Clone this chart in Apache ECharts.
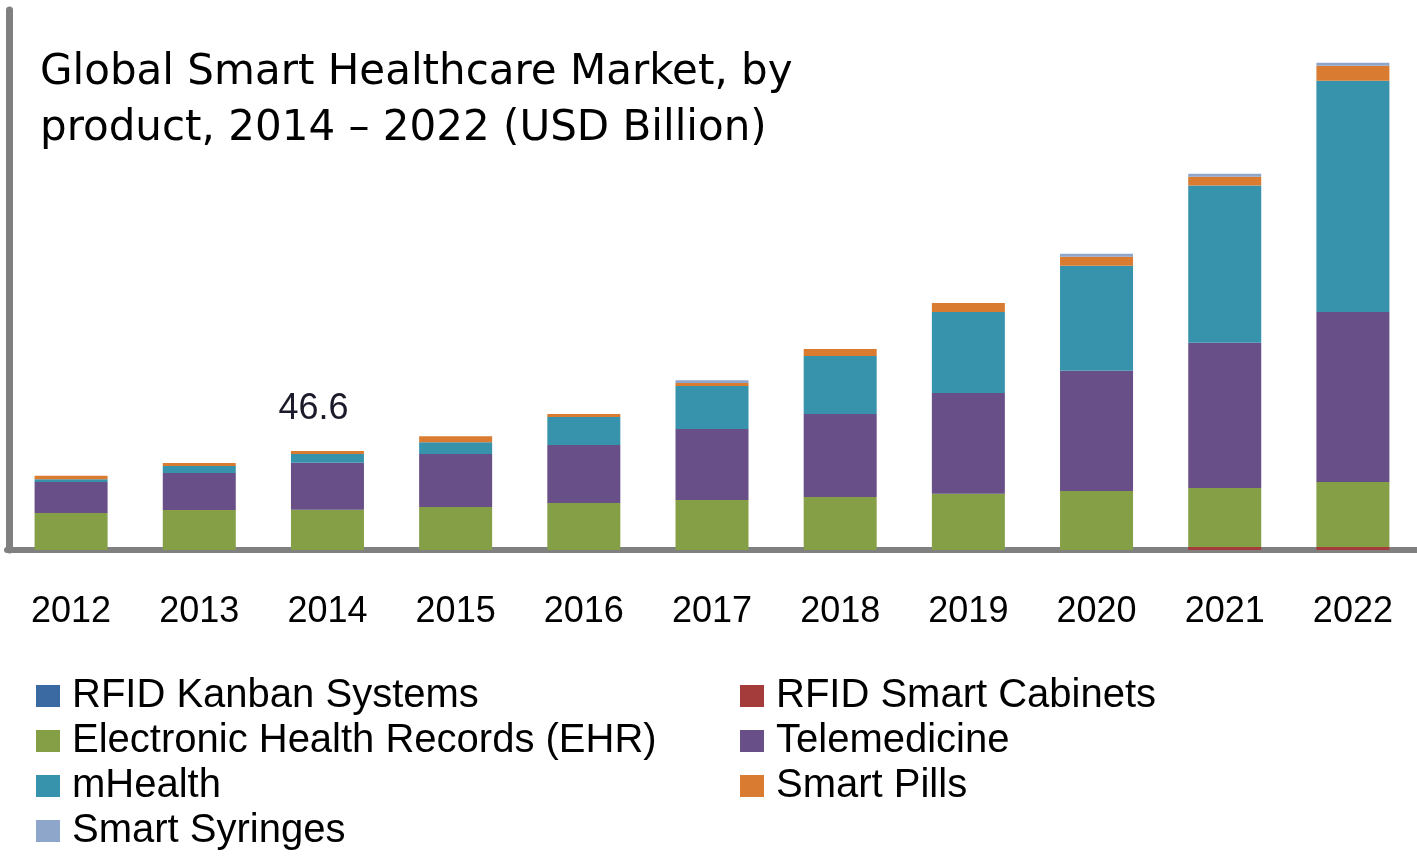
<!DOCTYPE html>
<html>
<head>
<meta charset="utf-8">
<script src="https://cdn.jsdelivr.net/npm/echarts@6/dist/echarts.min.js"></script>
<style>
html,body{margin:0;padding:0;background:#fff;}
#chart{width:1417px;height:858px;}
</style>
</head>
<body>
<div id="chart"></div>
<script>
// ---- Data (USD Billion) ----
const years = ['2012','2013','2014','2015','2016','2017','2018','2019','2020','2021','2022'];
const rfidKanban    = [0, 0, 0, 0, 0, 0, 0, 0, 0, 0, 0];
const rfidCabinets  = [0, 0, 0, 0, 0, 0, 0, 0, 0, 1.4, 1.4];
const ehr           = [17.4, 18.8, 18.9, 20.2, 22.1, 23.5, 24.9, 26.4, 27.8, 27.8, 30.6];
const telemedicine  = [14.6, 17.4, 22.1, 24.9, 27.3, 33.4, 39.1, 47.5, 56.5, 68.3, 80.0];
const mHealth       = [1.3, 3.3, 4.2, 5.6, 13.2, 20.2, 27.3, 38.1, 49.4, 73.9, 108.7];
const smartPills    = [1.6, 1.4, 1.4, 2.8, 1.4, 1.4, 3.3, 4.2, 4.2, 4.2, 7.1];
const smartSyringes = [0, 0, 0, 0, 0, 1.4, 0, 0, 1.4, 1.4, 1.4];
const annotatedYear = '2014';

const seriesNames = ['RFID Kanban Systems','RFID Smart Cabinets','Electronic Health Records (EHR)','Telemedicine','mHealth','Smart Pills','Smart Syringes'];
const seriesData = [rfidKanban, rfidCabinets, ehr, telemedicine, mHealth, smartPills, smartSyringes];
const colors = ['#3B69A1','#A33C3B','#849F45','#684F88','#3792AC','#D97C31','#8FA6CB'];

const annIdx = years.indexOf(annotatedYear);
const annTotal = seriesData.reduce((s, arr) => s + arr[annIdx], 0);

const chart = echarts.init(document.getElementById('chart'), null, {renderer: 'canvas'});

const series = seriesNames.map((name, i) => {
  let data = seriesData[i].slice();
  if (name === 'Smart Pills') {
    data = data.map((v, j) => j === annIdx ? {
      value: v,
      label: {
        show: true, position: 'top', distance: 24, offset: [-14, 0],
        formatter: () => annTotal.toFixed(1),
        fontFamily: 'Liberation Sans, Arial, sans-serif', fontSize: 36, color: '#1a1a2a'
      }
    } : v);
  }
  return {
    name, type: 'bar', stack: 'total', data, barWidth: 73,
    itemStyle: {color: colors[i]}, emphasis: {disabled: true}
  };
});

const legendText = {fontFamily: 'Liberation Sans, Arial, sans-serif', fontSize: 40, color: '#000', lineHeight: 40, padding: [0, 0, 0, 7]};

chart.setOption({
  animation: false,
  backgroundColor: '#fff',
  title: {
    text: 'Global Smart Healthcare Market, by\nproduct, 2014 \u2013 2022 (USD Billion)',
    left: 35, top: 40,
    textStyle: {fontFamily: 'DejaVu Sans, Verdana, sans-serif', fontSize: 42, fontWeight: 'normal', color: '#000', lineHeight: 56}
  },
  legend: [
    {
      data: [seriesNames[0], seriesNames[2], seriesNames[4], seriesNames[6]],
      orient: 'vertical', left: 36, top: 676, padding: 0, itemWidth: 24, itemHeight: 22, itemGap: 5,
      icon: 'rect', textStyle: legendText, selectedMode: false
    },
    {
      data: [seriesNames[1], seriesNames[3], seriesNames[5]],
      orient: 'vertical', left: 740, top: 676, padding: 0, itemWidth: 24, itemHeight: 22, itemGap: 5,
      icon: 'rect', textStyle: legendText, selectedMode: false
    }
  ],
  grid: {left: 7, width: 1414, top: 10, bottom: 308, containLabel: false},
  xAxis: {
    type: 'category', data: years, offset: 3,
    axisLine: {show: true, lineStyle: {color: '#808080', width: 6}},
    axisTick: {show: false},
    axisLabel: {margin: 41, fontFamily: 'Liberation Sans, Arial, sans-serif', fontSize: 36, color: '#000', lineHeight: 36, interval: 0}
  },
  yAxis: {
    type: 'value', min: 0, max: 254, offset: -2,
    axisLine: {show: true, lineStyle: {color: '#808080', width: 7}},
    axisTick: {show: false}, axisLabel: {show: false}, splitLine: {show: false}
  },
  series
});
</script>
</body>
</html>
